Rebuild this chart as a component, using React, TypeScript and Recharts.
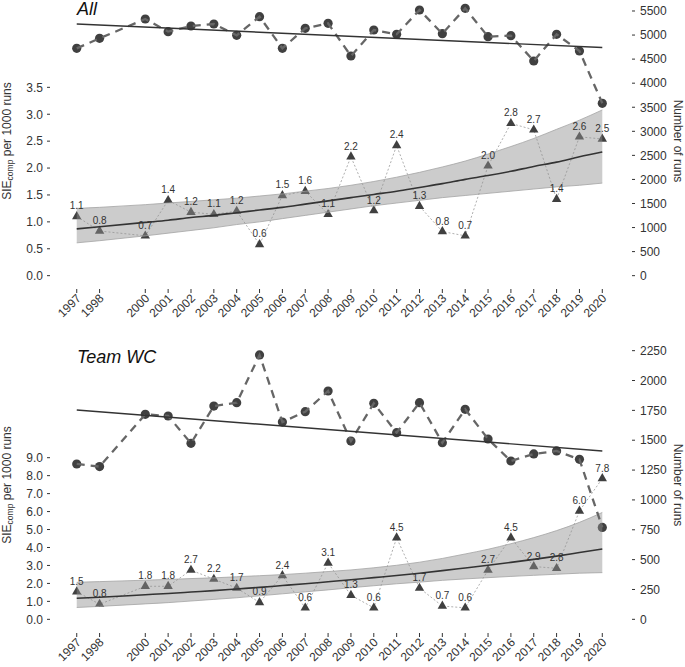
import React from "react";
import { Area, ComposedChart, LabelList, Line, XAxis, YAxis } from "recharts";

const FONT = '"Liberation Sans", Arial, Helvetica, sans-serif';
const TEXT = "#333333";
const POINT = "#404040";

// years present in the data (1999 is missing)
const years = [
  1997, 1998, 2000, 2001, 2002, 2003, 2004, 2005, 2006, 2007, 2008, 2009,
  2010, 2011, 2012, 2013, 2014, 2015, 2016, 2017, 2018, 2019, 2020
];
const trendYears = [1997, 2020];

// "All" panel
const allSie = [
  1.1, 0.83, 0.74, 1.4, 1.18, 1.14, 1.2, 0.58, 1.49, 1.57, 1.14, 2.21,
  1.21, 2.42, 1.29, 0.82, 0.74, 2.04, 2.83, 2.71, 1.42, 2.58, 2.54
];
const allRuns = [
  4724, 4932, 5334, 5071, 5188, 5230, 4994, 5382, 4724, 5140, 5244, 4565,
  5105, 5015, 5521, 5029, 5556, 4967, 4988, 4461, 5015, 4669, 3582
];
const allFit = [
  0.87, 0.91, 0.99, 1.03, 1.08, 1.12, 1.17, 1.22, 1.27, 1.33, 1.39, 1.45,
  1.51, 1.57, 1.64, 1.71, 1.79, 1.86, 1.94, 2.03, 2.11, 2.21, 2.3
];
const allLow = [
  0.61, 0.65, 0.74, 0.79, 0.84, 0.89, 0.95, 1.0, 1.06, 1.12, 1.18, 1.24,
  1.3, 1.35, 1.4, 1.45, 1.49, 1.53, 1.57, 1.61, 1.65, 1.68, 1.72
];
const allHigh = [
  1.25, 1.27, 1.32, 1.35, 1.38, 1.41, 1.44, 1.48, 1.52, 1.57, 1.62, 1.68,
  1.75, 1.83, 1.92, 2.02, 2.13, 2.26, 2.4, 2.55, 2.72, 2.89, 3.08
];
const allTrend = [5230, 4740];
const allLeftTicks = [0, 0.5, 1, 1.5, 2, 2.5, 3, 3.5];
const allRightTicks = [0, 500, 1000, 1500, 2000, 2500, 3000, 3500, 4000, 4500, 5000, 5500];

// "Team WC" panel
const wcSie = [
  1.54, 0.84, 1.84, 1.84, 2.74, 2.24, 1.74, 0.94, 2.44, 0.64, 3.14, 1.34,
  0.64, 4.54, 1.74, 0.74, 0.64, 2.74, 4.54, 2.94, 2.84, 6.03, 7.84
];
const wcRuns = [
  1301, 1279, 1717, 1703, 1474, 1786, 1814, 2214, 1652, 1739, 1912, 1493,
  1809, 1563, 1814, 1479, 1759, 1510, 1326, 1385, 1410, 1340, 770
];
const wcFit = [
  1.17, 1.23, 1.37, 1.44, 1.52, 1.6, 1.69, 1.78, 1.88, 1.98, 2.09, 2.2,
  2.32, 2.44, 2.57, 2.71, 2.86, 3.01, 3.17, 3.34, 3.52, 3.72, 3.92
];
const wcLow = [
  0.66, 0.72, 0.86, 0.93, 1.02, 1.11, 1.2, 1.31, 1.42, 1.53, 1.64, 1.76,
  1.87, 1.98, 2.07, 2.17, 2.25, 2.32, 2.39, 2.45, 2.51, 2.57, 2.6
];
const wcHigh = [
  2.06, 2.1, 2.18, 2.22, 2.27, 2.31, 2.37, 2.43, 2.49, 2.57, 2.66, 2.75,
  2.87, 3.01, 3.18, 3.39, 3.64, 3.9, 4.21, 4.55, 4.94, 5.4, 5.95
];
const wcTrend = [1753, 1410];
const wcLeftTicks = [0, 1, 2, 3, 4, 5, 6, 7, 8, 9];
const wcRightTicks = [0, 250, 500, 750, 1000, 1250, 1500, 1750, 2000, 2250];

function buildRows(sie: number[], runs: number[], fit: number[], low: number[], high: number[]) {
  return years.map((year, i) => ({
    year,
    sie: sie[i],
    runs: runs[i],
    fit: fit[i],
    band: [low[i], high[i]]
  }));
}

function Triangle(props: any) {
  const { cx, cy, index } = props;
  if (cx == null || cy == null) return <g key={`tri-${index}`} />;
  const half = 4.7;
  const h = half * 1.732;
  return (
    <path
      key={`tri-${index}`}
      d={`M${cx},${cy - (h * 2) / 3}L${cx + half},${cy + h / 3}L${cx - half},${cy + h / 3}Z`}
      fill={POINT}
    />
  );
}

function YearTick(props: any) {
  const { x, y, payload } = props;
  return (
    <text
      transform={`translate(${x + 5},${y + 4}) rotate(-45)`}
      textAnchor="end"
      fontSize={12}
      fill={TEXT}
      fontFamily={FONT}
    >
      {payload.value}
    </text>
  );
}

type PanelProps = {
  title: string;
  rows: any[];
  trend: number[];
  leftTicks: number[];
  rightTicks: number[];
  leftDomain: [number, number];
  rightDomain: [number, number];
  height: number;
  marginTop: number;
  xAxisHeight: number;
  titleY: number;
  axisMidY: number;
};

function Panel(p: PanelProps) {
  const trendRows = trendYears.map((year, i) => ({ year, trend: p.trend[i] }));
  const tickStyle = { fontSize: 12, fill: TEXT, fontFamily: FONT };
  return (
    <div style={{ position: "relative", width: 685, height: p.height }}>
      <ComposedChart
        width={685}
        height={p.height}
        data={p.rows}
        margin={{ top: p.marginTop, right: 0, bottom: 0, left: 0 }}
      >
        <XAxis
          dataKey="year"
          type="number"
          domain={[1995.83, 2021.3]}
          allowDataOverflow
          ticks={years}
          interval={0}
          height={p.xAxisHeight}
          axisLine={false}
          tickSize={4}
          tickMargin={2}
          tickLine={{ stroke: TEXT }}
          tick={<YearTick />}
        />
        <YAxis
          yAxisId="left"
          orientation="left"
          type="number"
          width={50}
          domain={p.leftDomain}
          allowDataOverflow
          ticks={p.leftTicks}
          interval={0}
          axisLine={false}
          tickSize={3}
          tickMargin={4}
          tickLine={{ stroke: TEXT }}
          tick={tickStyle}
          tickFormatter={(v: number) => v.toFixed(1)}
        />
        <YAxis
          yAxisId="right"
          orientation="right"
          type="number"
          width={53}
          domain={p.rightDomain}
          allowDataOverflow
          ticks={p.rightTicks}
          interval={0}
          axisLine={false}
          tickSize={3}
          tickMargin={5}
          tickLine={{ stroke: TEXT }}
          tick={{ ...tickStyle, textAnchor: "start" }}
        />
        <Line
          yAxisId="left"
          dataKey="sie"
          type="linear"
          stroke="#9a9a9a"
          strokeWidth={0.8}
          strokeDasharray="2 2"
          dot={Triangle}
          activeDot={false}
          isAnimationActive={false}
          zIndex={90}
        />
        {/* translucent band drawn over the triangles, as in the original */}
        <Area
          yAxisId="left"
          dataKey="band"
          type="monotone"
          fill="#8f8f8f"
          fillOpacity={0.46}
          stroke="#a3a3a3"
          strokeWidth={0.8}
          dot={false}
          activeDot={false}
          isAnimationActive={false}
          zIndex={1500}
        />
        <Line
          yAxisId="left"
          dataKey="fit"
          type="monotone"
          stroke="#333333"
          strokeWidth={1.6}
          dot={false}
          activeDot={false}
          isAnimationActive={false}
          zIndex={1600}
        />
        <Line
          yAxisId="right"
          dataKey="runs"
          type="linear"
          stroke="#666666"
          strokeWidth={2.3}
          strokeDasharray="8 6"
          dot={{ r: 4.6, fill: POINT, stroke: "none" }}
          activeDot={false}
          isAnimationActive={false}
          zIndex={1700}
        />
        <Line
          yAxisId="right"
          data={trendRows}
          dataKey="trend"
          type="linear"
          stroke="#333333"
          strokeWidth={1.4}
          dot={false}
          activeDot={false}
          isAnimationActive={false}
          zIndex={1800}
        />
        <Line
          yAxisId="left"
          dataKey="sie"
          stroke="none"
          dot={false}
          activeDot={false}
          isAnimationActive={false}
          zIndex={1900}
        >
          <LabelList
            dataKey="sie"
            position="top"
            offset={7}
            fontSize={10}
            fill={TEXT}
            fontFamily={FONT}
            formatter={(v: any) => Number(v).toFixed(1)}
          />
        </Line>
      </ComposedChart>
      <svg
        width={685}
        height={p.height}
        style={{ position: "absolute", left: 0, top: 0, pointerEvents: "none" }}
        fontFamily={FONT}
      >
        <text x={77} y={p.titleY} fontSize={18} fontStyle="italic" fill="#111">
          {p.title}
        </text>
        <text
          transform={`translate(10.5,${p.axisMidY}) rotate(-90)`}
          textAnchor="middle"
          fontSize={12}
          fill={TEXT}
        >
          SIE
          <tspan fontSize={8.5} dy={2.5}>
            comp
          </tspan>
          <tspan dy={-2.5}> per 1000 runs</tspan>
        </text>
        <text
          transform={`translate(674,${p.axisMidY}) rotate(90)`}
          textAnchor="middle"
          fontSize={12}
          fill={TEXT}
        >
          Number of runs
        </text>
      </svg>
    </div>
  );
}

export default function App() {
  return (
    <div
      style={{
        position: "absolute",
        left: 0,
        top: 0,
        width: 685,
        height: 667,
        background: "#ffffff",
        overflow: "hidden"
      }}
    >
      <Panel
        title="All"
        rows={buildRows(allSie, allRuns, allFit, allLow, allHigh)}
        trend={allTrend}
        leftTicks={allLeftTicks}
        rightTicks={allRightTicks}
        leftDomain={[-0.2477, 5.086]}
        rightDomain={[-277, 5687]}
        height={332}
        marginTop={2}
        xAxisHeight={43}
        titleY={15}
        axisMidY={141}
      />
      <Panel
        title="Team WC"
        rows={buildRows(wcSie, wcRuns, wcFit, wcLow, wcHigh)}
        trend={wcTrend}
        leftTicks={wcLeftTicks}
        rightTicks={wcRightTicks}
        leftDomain={[-0.761, 15.497]}
        rightDomain={[-114.5, 2330.9]}
        height={335}
        marginTop={9}
        xAxisHeight={34}
        titleY={31.3}
        axisMidY={153}
      />
    </div>
  );
}
